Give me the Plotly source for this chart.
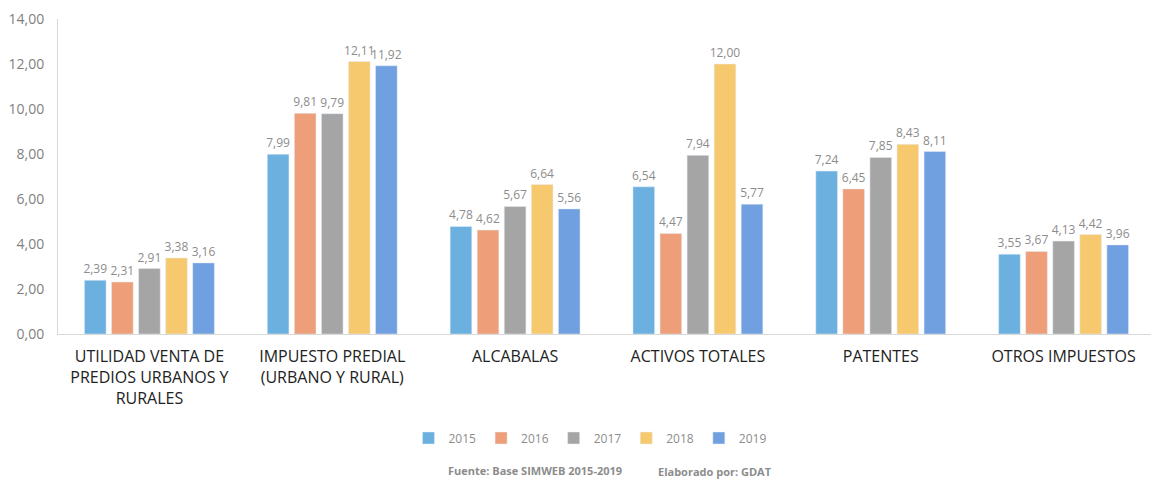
import plotly.graph_objects as go

categories = ["UTILIDAD VENTA DE<br>PREDIOS URBANOS Y<br>RURALES",
              "IMPUESTO PREDIAL<br>(URBANO Y RURAL)",
              "ALCABALAS", "ACTIVOS TOTALES", "PATENTES", "OTROS IMPUESTOS"]
years = ["2015", "2016", "2017", "2018", "2019"]
v2015 = [2.39, 7.99, 4.78, 6.54, 7.24, 3.55]
v2016 = [2.31, 9.81, 4.62, 4.47, 6.45, 3.67]
v2017 = [2.91, 9.79, 5.67, 7.94, 7.85, 4.13]
v2018 = [3.38, 12.11, 6.64, 12.00, 8.43, 4.42]
v2019 = [3.16, 11.92, 5.56, 5.77, 8.11, 3.96]
series = [v2015, v2016, v2017, v2018, v2019]
colors = ["#6CB0E0", "#EE9E78", "#A5A5A5", "#F7C96F", "#70A0E0"]
yticks = [0, 2, 4, 6, 8, 10, 12, 14]

W, H = 1151, 473
fig = go.Figure()
for y, vals, c in zip(years, series, colors):
    fig.add_trace(go.Bar(
        x=categories, y=vals, name=y, marker_color=c,
        text=[f"{v:.2f}".replace(".", ",") for v in vals],
        textposition="outside", cliponaxis=False,
        textfont=dict(color="#8C8C8C", size=12),
    ))

fig.update_layout(
    width=W, height=H,
    paper_bgcolor="white", plot_bgcolor="white",
    font=dict(family="Open Sans, Liberation Sans, sans-serif"),
    margin=dict(l=50, r=4, t=11, b=147, autoexpand=False),
    barmode="group", bargap=0.26, bargroupgap=0.2,
    showlegend=True,
    legend=dict(orientation="h", x=582 / W, xanchor="center", xref="container",
                y=1 - 430 / H, yref="container", yanchor="middle",
                font=dict(size=12, color="#8C8C8C"), itemwidth=30),
    uniformtext=dict(minsize=12, mode="show"),
    xaxis=dict(showline=True, linecolor="#D9D9D9", linewidth=1,
               ticks="outside", ticklen=8, tickcolor="rgba(0,0,0,0)",
               tickfont=dict(size=16, color="#222222"), showgrid=False),
    yaxis=dict(range=[0, 14], tickvals=yticks,
               ticktext=[f"{t:.2f}".replace(".", ",") for t in yticks],
               showline=True, linecolor="#D9D9D9", linewidth=1, showgrid=False,
               zeroline=False, tickfont=dict(size=14, color="#7F7F7F"),
               ticks="outside", ticklen=10, tickcolor="rgba(0,0,0,0)"),
)
fig.add_annotation(text="<b>Fuente: Base SIMWEB 2015-2019</b>", xref="paper", yref="paper",
                   x=(527 - 50) / 1097, y=-(462 - 326) / 315, showarrow=False,
                   font=dict(size=11, color="#8C8C8C"), xanchor="center", yanchor="middle")
fig.add_annotation(text="<b>Elaborado por: GDAT</b>", xref="paper", yref="paper",
                   x=(707 - 50) / 1097, y=-(463 - 326) / 315, showarrow=False,
                   font=dict(size=11, color="#8C8C8C"), xanchor="center", yanchor="middle")
fig.write_html("out.html")
